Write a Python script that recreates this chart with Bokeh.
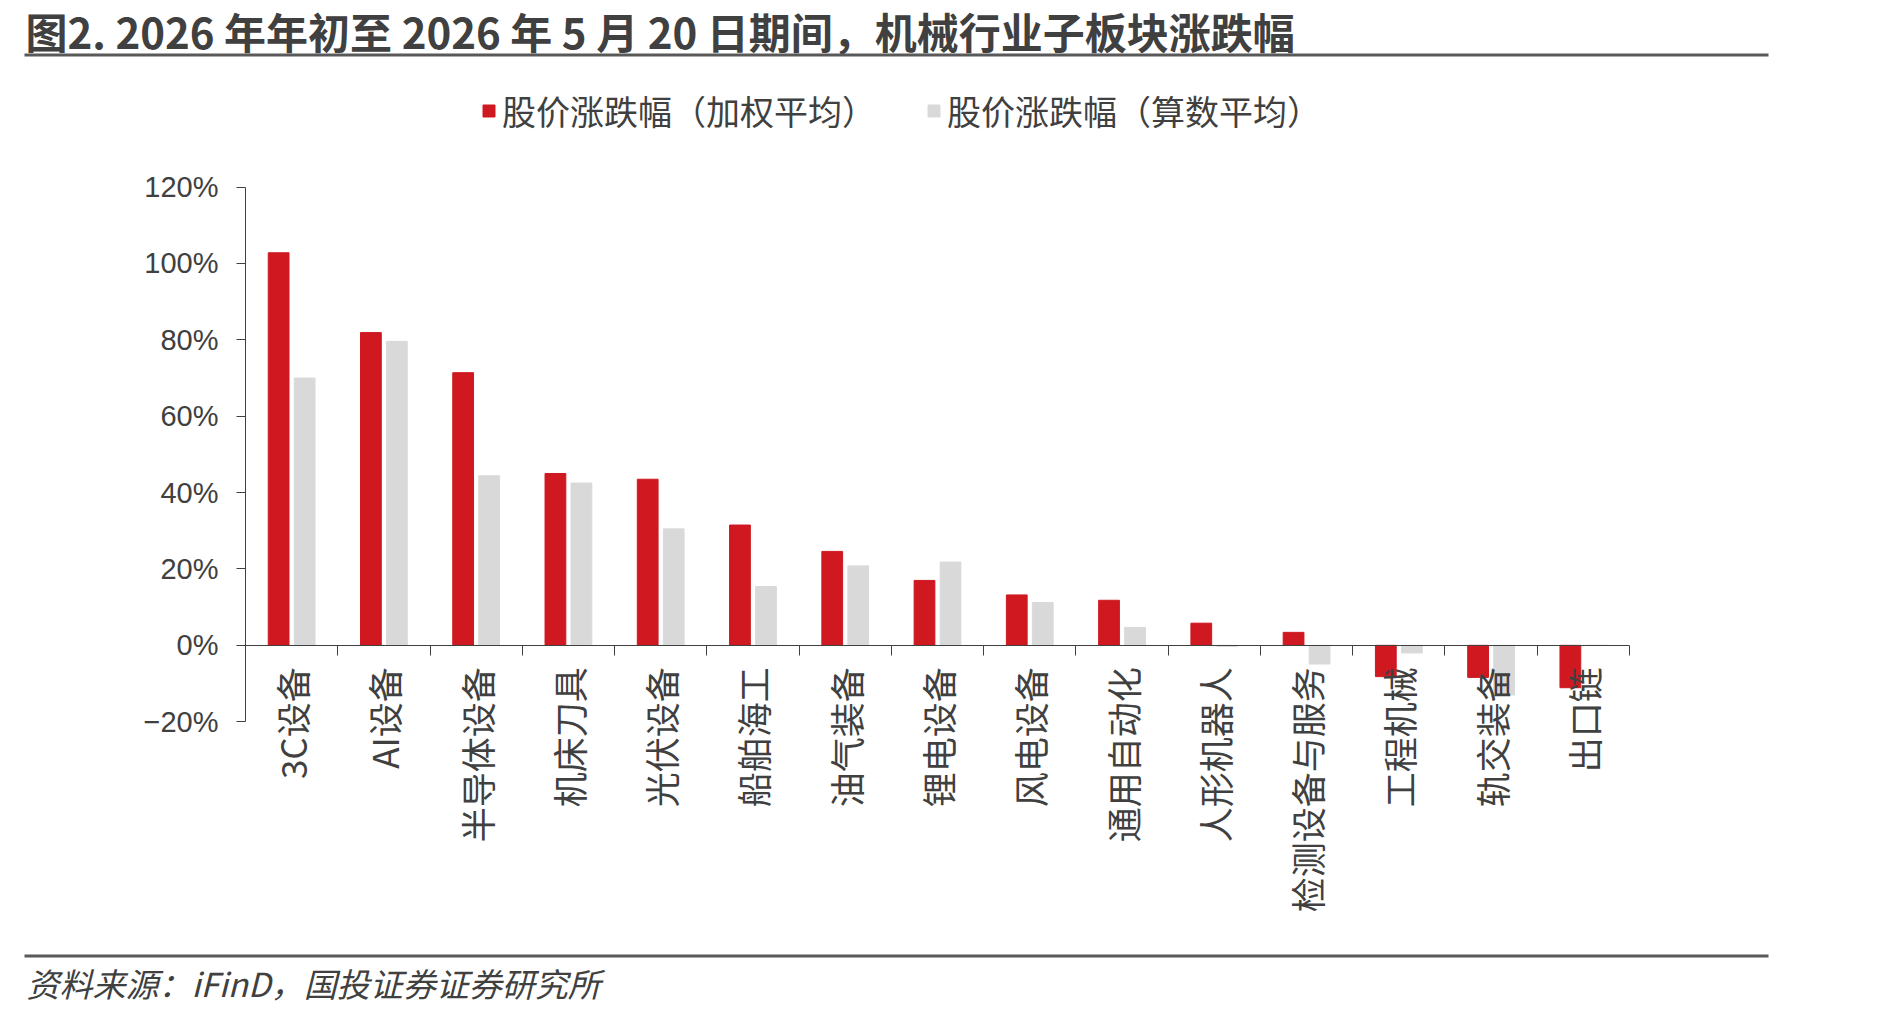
import numpy as np
from bokeh.plotting import figure
from bokeh.models import (ColumnDataSource, Range1d, LinearAxis, FixedTicker,
                          CustomJSTickFormatter, Legend, LegendItem, Label, BoxAnnotation)
from bokeh.transform import dodge
from bokeh.embed import file_html
from bokeh.resources import INLINE

# ---------------- data ----------------
categories = ["3C设备", "AI设备", "半导体设备", "机床刀具", "光伏设备", "船舶海工", "油气装备",
              "锂电设备", "风电设备", "通用自动化", "人形机器人", "检测设备与服务", "工程机械",
              "轨交装备", "出口链"]
weighted = [102.8, 81.9, 71.4, 45.0, 43.5, 31.5, 24.6, 17.0, 13.2, 11.8, 5.8, 3.4, -8.2, -8.4, -11.1]
arithmetic = [70.0, 79.6, 44.4, 42.5, 30.5, 15.4, 20.8, 21.8, 11.2, 4.7, -0.3, -4.9, -2.0, -13.0, 0.0]
y_ticks = [-20, 0, 20, 40, 60, 80, 100, 120]
series_names = ["股价涨跌幅（加权平均）", "股价涨跌幅（算数平均）"]
title_text = "图2. 2026 年年初至 2026 年 5 月 20 日期间，机械行业子板块涨跌幅"
source_text = "资料来源：iFinD，国投证券证券研究所"

RED = "#CF1820"
GRAY = "#D9D9D9"
TXT = "#404040"
CJK = "Noto Sans CJK SC"

n = len(categories)
ymin, ymax = y_ticks[0], y_ticks[-1]
src = ColumnDataSource(dict(x=[i + 0.5 for i in range(n)], cat=categories, w=weighted, a=arithmetic))

# ---------------- layout (pixels) ----------------
W, H = 1888, 1014
AX_L, AX_R = 245.0, 1629.0      # x of value axis / right end of category axis
AX_T, AX_B = 186.6, 721.2       # y of top tick / bottom tick
kx = (AX_R - AX_L) / n
ky = (AX_B - AX_T) / (ymax - ymin)
x_range = Range1d(-AX_L / kx, n + (W - AX_R) / kx)
y_range = Range1d(ymin - (H - AX_B) / ky, ymax + AX_T / ky)

p = figure(width=W, height=H, x_range=x_range, y_range=y_range,
           output_backend="svg", toolbar_location=None, x_axis_location=None,
           y_axis_location="left",
           min_border_left=0, min_border_right=0, min_border_top=0, min_border_bottom=0)
p.outline_line_color = None
p.grid.visible = False
p.background_fill_color = "white"
p.border_fill_color = "white"

r1 = p.vbar(x=dodge("x", -0.141, range=p.x_range), top="w", width=0.225, source=src,
            fill_color=RED, line_color=RED)
r2 = p.vbar(x=dodge("x", 0.141, range=p.x_range), top="a", width=0.225, source=src,
            fill_color=GRAY, line_color=GRAY)

# y axis (fixed at x = 0, bounded to tick range)
ya = p.yaxis[0]
ya.fixed_location = 0
ya.bounds = (ymin, ymax)
ya.ticker = FixedTicker(ticks=y_ticks)
ya.formatter = CustomJSTickFormatter(code="return (tick < 0 ? '\u2212' : '') + Math.abs(tick) + '%';")
ya.major_tick_in = 0
ya.major_tick_out = 9
ya.minor_tick_line_color = None
ya.axis_line_color = TXT
ya.major_tick_line_color = TXT
ya.major_label_standoff = 18
ya.major_label_text_font = "Liberation Sans"
ya.major_label_text_font_size = "29px"
ya.major_label_text_color = TXT

# x axis: line + boundary ticks at y = 0
xa_ticks = LinearAxis(ticker=FixedTicker(ticks=list(range(n + 1))),
                      formatter=CustomJSTickFormatter(code="return '';"),
                      fixed_location=0, bounds=(0, n), major_tick_in=0, major_tick_out=10,
                      minor_tick_line_color=None, axis_line_color=TXT,
                      major_tick_line_color=TXT, major_label_text_font_size="1px")
p.add_layout(xa_ticks, "below")

# x axis: category labels
xa_labels = LinearAxis(ticker=FixedTicker(ticks=[i + 0.5 for i in range(n)]),
                       formatter=CustomJSTickFormatter(args=dict(labels=categories),
                                                       code="return labels[Math.floor(tick)];"),
                       fixed_location=0, axis_line_color=None, major_tick_line_color=None,
                       minor_tick_line_color=None, major_tick_in=0, major_tick_out=0,
                       major_label_orientation=np.pi / 2, major_label_standoff=22,
                       major_label_text_font=CJK, major_label_text_font_size="35px",
                       major_label_text_color=TXT)
p.add_layout(xa_labels, "below")

def sx(x):
    return x

def sy(y):
    return H - y

# legend
legend = Legend(items=[LegendItem(label=series_names[0], renderers=[r1]),
                       LegendItem(label=series_names[1], renderers=[r2])],
                orientation="horizontal", location=(sx(481), sy(135)),
                glyph_width=15, glyph_height=15, label_standoff=6, spacing=50,
                padding=0, margin=0, border_line_color=None, background_fill_alpha=0,
                label_text_font=CJK, label_text_font_size="34px", label_text_color=TXT)
p.add_layout(legend, "center")

# title and rules
p.add_layout(Label(x=sx(25), y=sy(30), x_units="screen", y_units="screen", text=title_text,
                   text_font=CJK, text_font_style="bold", text_font_size="42px",
                   text_color=TXT, text_baseline="middle"))
p.add_layout(BoxAnnotation(left=sx(24), right=sx(1768), top=sy(53), bottom=sy(56),
                           left_units="screen", right_units="screen", top_units="screen",
                           bottom_units="screen", fill_color="#595959", fill_alpha=1,
                           line_color=None))
p.add_layout(BoxAnnotation(left=sx(24), right=sx(1768), top=sy(954), bottom=sy(957),
                           left_units="screen", right_units="screen", top_units="screen",
                           bottom_units="screen", fill_color="#595959", fill_alpha=1,
                           line_color=None))
p.add_layout(Label(x=sx(26), y=sy(982), x_units="screen", y_units="screen", text=source_text,
                   text_font=CJK, text_font_style="italic", text_font_size="33px",
                   text_color=TXT, text_baseline="middle"))

open("out.html", "w", encoding="utf-8").write(file_html(p, INLINE))
